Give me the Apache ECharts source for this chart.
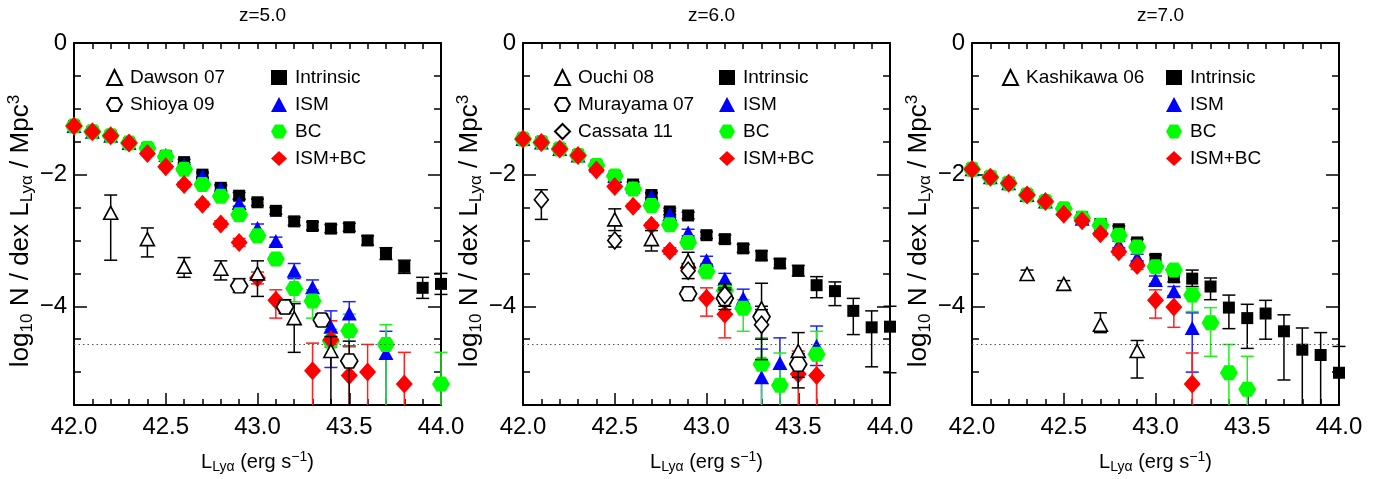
<!DOCTYPE html>
<html><head><meta charset="utf-8">
<script src="https://cdn.jsdelivr.net/npm/echarts@6/dist/echarts.min.js"></script>
<style>html,body{margin:0;padding:0;background:#fff}#c{width:1375px;height:479px}</style>
</head><body><div id="c"></div>
<script>
// ---------------- DATA ----------------
const panelTitles = ['z=5.0', 'z=6.0', 'z=7.0'];
const xModel = [42.0,42.1,42.2,42.3,42.4,42.5,42.6,42.7,42.8,42.9,43.0,43.1,43.2,43.3,43.4,43.5,43.6,43.7,43.8,43.9,44.0];
const xTickLabels = ['42.0','42.5','43.0','43.5','44.0'];
const yTickValues = [0, -2, -4];
const yTickLabels = ['0', '\u22122', '\u22124'];
const detectionLimit = -4.57;
const modelNames = ['Intrinsic', 'ISM', 'BC', 'ISM+BC'];

// z = 5.0 models (err: number = symmetric, [down, up] = asymmetric)
const z5Intrinsic = [-1.26,-1.35,-1.41,-1.52,-1.60,-1.72,-1.81,-2.00,-2.20,-2.32,-2.42,-2.55,-2.71,-2.78,-2.82,-2.80,-3.00,-3.20,-3.40,-3.72,-3.66];
const z5IntrinsicErr = [0.02,0.02,0.02,0.02,0.03,0.03,0.04,0.04,0.05,0.05,0.05,0.05,0.06,0.06,0.06,0.06,0.07,0.09,0.1,0.16,0.16];
const z5ISM = [-1.26,-1.35,-1.41,-1.52,-1.60,-1.70,-1.85,-2.02,-2.21,-2.43,-2.81,-3.01,-3.46,-3.71,-4.31,-4.11,null,-4.71,null,null,null];
const z5ISMErr = [0.02,0.02,0.02,0.02,0.03,0.03,0.03,0.04,0.04,0.05,0.06,0.06,[0.12,0.11],[0.14,0.11],[0.62,0.24],[0.5,0.18],null,[2,0.33],null,null,null];
const z5BC = [-1.26,-1.35,-1.41,-1.52,-1.60,-1.73,-1.92,-2.15,-2.33,-2.61,-2.93,-3.28,-3.73,-3.92,-4.53,-4.37,null,-4.58,null,null,-5.18];
const z5BCErr = [0.02,0.02,0.02,0.02,0.03,0.03,0.03,0.04,0.04,0.05,0.05,0.07,[0.2,0.18],[0.26,0.17],[0.22,0.18],[0.25,0.25],null,[2,0.3],null,null,[2,0.48]];
const z5ISMBC = [-1.26,-1.35,-1.41,-1.52,-1.68,-1.88,-2.15,-2.45,-2.75,-3.03,-3.57,-3.91,null,-4.98,-4.51,-5.05,-5.00,null,-5.18,null,null];
const z5ISMBCErr = [0.02,0.02,0.02,0.02,0.03,0.03,0.04,0.04,0.05,0.06,0.09,[0.27,0.16],null,[2,0.42],[0.11,0.29],[2,0.45],[2,0.42],null,[2,0.48],null,null];

// z = 6.0 models
const z6Intrinsic = [-1.46,-1.51,-1.61,-1.71,-1.86,-2.02,-2.15,-2.31,-2.56,-2.62,-2.92,-2.98,-3.12,-3.23,-3.35,-3.46,-3.68,-3.77,-4.07,-4.32,-4.31];
const z6IntrinsicErr = [0.02,0.02,0.02,0.02,0.03,0.03,0.04,0.04,0.05,0.05,0.05,0.06,0.06,0.07,0.07,0.08,[0.19,0.13],[0.22,0.14],[0.36,0.19],[0.6,0.25],[0.7,0.31]];
const z6ISM = [-1.46,-1.51,-1.61,-1.71,-1.86,-2.02,-2.18,-2.33,-2.60,-2.88,-3.30,-3.58,-3.88,-5.08,-4.86,null,-4.60,null,null,null,null];
const z6ISMErr = [0.02,0.02,0.02,0.02,0.03,0.03,0.03,0.04,0.05,0.05,0.06,0.08,[0.12,0.14],[2,0.43],[2,0.38],null,[0.3,0.3],null,null,null,null];
const z6BC = [-1.46,-1.51,-1.61,-1.71,-1.86,-2.02,-2.22,-2.47,-2.76,-3.03,-3.47,-3.76,-4.03,-4.88,-5.20,null,-4.73,null,null,null,null];
const z6BCErr = [0.02,0.02,0.02,0.02,0.03,0.03,0.03,0.04,0.05,0.05,0.05,[0.14,0.11],[0.35,0.13],[2,0.4],[2,0.49],null,[2,0.35],null,null,null,null];
const z6ISMBC = [-1.46,-1.51,-1.61,-1.71,-1.93,-2.18,-2.48,-2.77,-3.16,-3.42,-3.88,-4.12,null,null,null,-5.03,-5.05,null,null,null,null];
const z6ISMBCErr = [0.02,0.02,0.02,0.02,0.03,0.03,0.04,0.04,0.05,0.06,[0.27,0.16],[0.36,0.17],null,null,null,[2,0.35],[2,0.37],null,null,null,null];

// z = 7.0 models
const z7Intrinsic = [-1.92,-2.04,-2.13,-2.31,-2.41,-2.52,-2.65,-2.75,-2.83,-3.03,-3.28,-3.56,-3.58,-3.70,-4.02,-4.18,-4.11,-4.38,-4.66,-4.74,-5.01];
const z7IntrinsicErr = [0.02,0.02,0.02,0.03,0.03,0.03,0.04,0.04,0.05,0.05,0.06,0.07,[0.12,0.13],[0.2,0.13],[0.32,0.19],[0.46,0.21],[0.39,0.2],[0.74,0.25],[2,0.33],[2,0.34],[2,0.4]];
const z7ISM = [-1.92,-2.04,-2.13,-2.31,-2.41,-2.52,-2.67,-2.82,-3.06,-3.26,-3.60,-3.77,-4.33,null,null,null,null,null,null,null,null];
const z7ISMErr = [0.02,0.02,0.02,0.03,0.03,0.03,0.04,0.04,0.05,0.05,0.06,0.07,[0.67,0.23],null,null,null,null,null,null,null,null];
const z7BC = [-1.92,-2.04,-2.13,-2.31,-2.41,-2.52,-2.66,-2.77,-2.92,-3.10,-3.40,-3.45,-3.83,-4.25,-5.01,-5.26,null,null,null,null,null];
const z7BCErr = [0.02,0.02,0.02,0.03,0.03,0.03,0.04,0.04,0.05,0.05,0.06,0.07,[0.25,0.1],[0.51,0.23],[2,0.43],[2,0.5],null,null,null,null,null];
const z7ISMBC = [-1.92,-2.04,-2.13,-2.31,-2.41,-2.60,-2.70,-2.90,-3.17,-3.38,-3.91,-4.01,-5.18,null,null,null,null,null,null,null,null];
const z7ISMBCErr = [0.02,0.02,0.02,0.03,0.03,0.03,0.04,0.04,0.05,0.06,[0.27,0.16],[0.31,0.15],[2,0.47],null,null,null,null,null,null,null,null];

// Observations: x, y, lower bound, upper bound
const dawsonX  = [42.2, 42.4, 42.6, 42.8, 43.0, 43.2, 43.4];
const dawsonY  = [-2.58, -2.98, -3.40, -3.43, -3.50, -4.18, -4.68];
const dawsonLo = [-3.30, -3.25, -3.56, -3.60, -3.85, -4.70, -6.0];
const dawsonHi = [-2.31, -2.81, -3.26, -3.31, -3.31, -3.96, -4.46];
const shioyaX  = [42.9, 43.15, 43.35, 43.5];
const shioyaY  = [-3.69, -4.01, -4.21, -4.83];
const shioyaLo = [-3.79, -4.11, -4.30, -6.0];
const shioyaHi = [-3.58, -3.90, -4.12, -4.53];

const ouchiX  = [42.5, 42.7, 42.9, 43.1, 43.3, 43.5];
const ouchiY  = [-2.68, -2.98, -3.31, -3.76, -4.03, -4.68];
const ouchiLo = [-2.85, -3.16, -3.45, -4.05, -4.81, -5.24];
const ouchiHi = [-2.52, -2.85, -3.18, -3.66, -3.65, -4.40];
const murayamaX  = [42.9, 43.1, 43.3, 43.5];
const murayamaY  = [-3.81, -3.88, -4.16, -4.88];
const murayamaLo = [-3.90, -4.00, -4.30, -5.08];
const murayamaHi = [-3.71, -3.75, -4.00, -4.72];
const cassataX  = [42.1, 42.5, 42.9, 43.1, 43.3];
const cassataY  = [-2.38, -3.00, -3.46, -3.83, -4.28];
const cassataLo = [-2.68, -3.10, -3.58, -3.95, -4.50];
const cassataHi = [-2.23, -2.93, -3.35, -3.72, -4.05];

const kashikawaX  = [42.3, 42.5, 42.7, 42.9];
const kashikawaY  = [-3.51, -3.66, -4.28, -4.68];
const kashikawaLo = [-3.57, -3.71, -4.40, -5.09];
const kashikawaHi = [-3.45, -3.61, -4.10, -4.52];

// ---------------- LAYOUT / STYLE ----------------
const FONT = '"Liberation Sans", Arial, Helvetica, sans-serif';
const X_MIN = 42, X_MAX = 44, Y_MIN = -5.5, Y_MAX = 0;
const gridLefts = [74, 523, 972];
const GRID_W = 367, GRID_TOP = 43, GRID_H = 366;
const HEX = 'path://M-1,0 L-0.5,-0.866 L0.5,-0.866 L1,0 L0.5,0.866 L-0.5,0.866 Z';

const modelStyle = {
  'Intrinsic': { symbol: 'rect', size: [12, 12], color: '#000000', err: '#000000' },
  'ISM':       { symbol: 'triangle', size: [15, 14], color: '#0000ff', err: '#2020ff' },
  'BC':        { symbol: HEX, size: [18, 15], color: '#00ff00', err: '#22ee22' },
  'ISM+BC':    { symbol: 'diamond', size: [17, 19], color: '#ff0000', err: '#ff2020' }
};
const obsStyle = {
  tri:  { symbol: 'triangle', size: [14, 13] },
  hex:  { symbol: HEX, size: [17, 14] },
  dia:  { symbol: 'diamond', size: [14, 17] }
};

const panels = [
  { models: [z5Intrinsic, z5ISM, z5BC, z5ISMBC], errs: [z5IntrinsicErr, z5ISMErr, z5BCErr, z5ISMBCErr],
    obs: [ { name: 'Dawson 07', st: 'tri', x: dawsonX, y: dawsonY, lo: dawsonLo, hi: dawsonHi },
           { name: 'Shioya 09', st: 'hex', x: shioyaX, y: shioyaY, lo: shioyaLo, hi: shioyaHi } ],
    obsLegendLeft: 101, modelLegendLeft: 266 },
  { models: [z6Intrinsic, z6ISM, z6BC, z6ISMBC], errs: [z6IntrinsicErr, z6ISMErr, z6BCErr, z6ISMBCErr],
    obs: [ { name: 'Ouchi 08', st: 'tri', x: ouchiX, y: ouchiY, lo: ouchiLo, hi: ouchiHi },
           { name: 'Murayama 07', st: 'hex', x: murayamaX, y: murayamaY, lo: murayamaLo, hi: murayamaHi },
           { name: 'Cassata 11', st: 'dia', x: cassataX, y: cassataY, lo: cassataLo, hi: cassataHi } ],
    obsLegendLeft: 549, modelLegendLeft: 714 },
  { models: [z7Intrinsic, z7ISM, z7BC, z7ISMBC], errs: [z7IntrinsicErr, z7ISMErr, z7BCErr, z7ISMBCErr],
    obs: [ { name: 'Kashikawa 06', st: 'tri', x: kashikawaX, y: kashikawaY, lo: kashikawaLo, hi: kashikawaHi } ],
    obsLegendLeft: 997, modelLegendLeft: 1161 }
];

// ---------------- BUILD ----------------
function errRender(color, capHalf) {
  return function (params, api) {
    const x = api.value(0);
    let lo = api.value(1), hi = api.value(2);
    const loCap = lo >= Y_MIN, hiCap = hi <= Y_MAX;
    lo = Math.max(lo, Y_MIN); hi = Math.min(hi, Y_MAX);
    const p1 = api.coord([x, lo]), p2 = api.coord([x, hi]);
    const style = { stroke: color, lineWidth: 1.5, fill: null };
    const ch = [{ type: 'line', shape: { x1: p1[0], y1: p1[1], x2: p2[0], y2: p2[1] }, style }];
    if (loCap) ch.push({ type: 'line', shape: { x1: p1[0] - capHalf, y1: p1[1], x2: p1[0] + capHalf, y2: p1[1] }, style });
    if (hiCap) ch.push({ type: 'line', shape: { x1: p2[0] - capHalf, y1: p2[1], x2: p2[0] + capHalf, y2: p2[1] }, style });
    return { type: 'group', children: ch };
  };
}

const grid = [], xAxis = [], yAxis = [], series = [], legend = [], title = [];
const axisLineStyle = { color: '#000', width: 2 };
const xNameRich = {
  n: { fontSize: 20, fontFamily: FONT, color: '#000', lineHeight: 24 },
  s: { fontSize: 14, fontFamily: FONT, color: '#000', lineHeight: 24, verticalAlign: 'bottom', padding: [7, 0, 0, 0] },
  p: { fontSize: 14, fontFamily: FONT, color: '#000', lineHeight: 24, verticalAlign: 'top', padding: [0, 0, 7, 0] }
};
const yNameRich = {
  n: { fontSize: 26, fontFamily: FONT, color: '#000', lineHeight: 30 },
  s: { fontSize: 17, fontFamily: FONT, color: '#000', lineHeight: 30, verticalAlign: 'bottom', padding: [9, 0, 0, 0] },
  p: { fontSize: 17, fontFamily: FONT, color: '#000', lineHeight: 30, verticalAlign: 'top', padding: [0, 0, 9, 0] },
  e: { fontSize: 17, lineHeight: 30, width: 14 }
};

panels.forEach((P, i) => {
  const gl = gridLefts[i];
  grid.push({ left: gl, top: GRID_TOP, width: GRID_W, height: GRID_H, containLabel: false });
  title.push({ text: panelTitles[i], left: gl + GRID_W / 2, top: 1, textAlign: 'center',
    textStyle: { fontFamily: FONT, fontSize: 19, fontWeight: 'normal', color: '#000' } });

  // x axes (bottom + top)
  xAxis.push({
    gridIndex: i, type: 'value', min: X_MIN, max: X_MAX, interval: 0.5, position: 'bottom',
    axisLine: { show: true, onZero: false, lineStyle: axisLineStyle },
    axisTick: { show: true, inside: true, length: 12, lineStyle: { color: '#000', width: 1.5 } },
    minorTick: { show: true, splitNumber: 5, length: 6, lineStyle: { color: '#000', width: 1.5 } },
    splitLine: { show: false },
    axisLabel: { show: true, margin: 10, fontFamily: FONT, fontSize: 24, color: '#000',
      formatter: v => xTickLabels[Math.round((v - X_MIN) / 0.5)] },
    name: '{n|L}{s|Ly\u03b1}{n| (erg s}{p|\u22121}{n|)}', nameLocation: 'middle', nameGap: 45,
    nameTextStyle: { rich: xNameRich }
  });
  xAxis.push({
    gridIndex: i, type: 'value', min: X_MIN, max: X_MAX, interval: 0.5, position: 'top',
    axisLine: { show: true, onZero: false, lineStyle: axisLineStyle },
    axisTick: { show: true, inside: true, length: 6, lineStyle: { color: '#000', width: 1.5 } },
    minorTick: { show: true, splitNumber: 5, length: 6, lineStyle: { color: '#000', width: 1.5 } },
    splitLine: { show: false }, axisLabel: { show: false }
  });
  // y axes: left (main), left long ticks, right, right long ticks
  yAxis.push({
    gridIndex: i, type: 'value', min: Y_MIN, max: Y_MAX, interval: 0.5, position: 'left',
    axisLine: { show: true, onZero: false, lineStyle: axisLineStyle },
    axisTick: { show: true, inside: true, length: 7, lineStyle: { color: '#000', width: 1.5 } },
    splitLine: { show: false },
    axisLabel: { show: true, margin: 7, fontFamily: FONT, fontSize: 24, color: '#000',
      customValues: yTickValues,
      formatter: v => { const k = yTickValues.findIndex(t => Math.abs(t - v) < 1e-6); return k >= 0 ? yTickLabels[k] : ''; } },
    name: '{n|log}{s|10}{n| N / dex L}{s|Ly\u03b1}{n| / Mpc}{p|3}{e|}', nameLocation: 'middle', nameGap: 27,
    nameTextStyle: { rich: yNameRich }
  });
  yAxis.push({
    gridIndex: i, type: 'value', min: Y_MIN, max: Y_MAX, position: 'left', offset: 0,
    axisLine: { show: false },
    axisTick: { show: true, inside: true, length: 13, customValues: yTickValues, lineStyle: { color: '#000', width: 1.5 } },
    splitLine: { show: false }, axisLabel: { show: false }
  });
  yAxis.push({
    gridIndex: i, type: 'value', min: Y_MIN, max: Y_MAX, interval: 0.5, position: 'right', offset: 0,
    axisLine: { show: true, onZero: false, lineStyle: axisLineStyle },
    axisTick: { show: true, inside: true, length: 7, lineStyle: { color: '#000', width: 1.5 } },
    splitLine: { show: false }, axisLabel: { show: false }
  });
  yAxis.push({
    gridIndex: i, type: 'value', min: Y_MIN, max: Y_MAX, position: 'right', offset: 0,
    axisLine: { show: false },
    axisTick: { show: true, inside: true, length: 13, customValues: yTickValues, lineStyle: { color: '#000', width: 1.5 } },
    splitLine: { show: false }, axisLabel: { show: false }
  });

  const xi = 2 * i, yi = 4 * i;

  // models
  modelNames.forEach((nm, m) => {
    const vals = P.models[m], errs = P.errs[m], st = modelStyle[nm];
    const errData = [], ptData = [];
    xModel.forEach((x, k) => {
      const v = vals[k];
      if (v === null || v === undefined) return;
      ptData.push([x, v]);
      const e = errs[k];
      if (e !== null && e !== undefined) {
        const dn = Array.isArray(e) ? e[0] : e, up = Array.isArray(e) ? e[1] : e;
        errData.push([x, v - dn, v + up]);
      }
    });
    series.push({ type: 'custom', name: nm + ' err', xAxisIndex: xi, yAxisIndex: yi, silent: true,
      renderItem: errRender(st.err, 6.5), encode: { x: 0, y: [1, 2] }, data: errData, z: 2 });
    const s = { type: 'scatter', name: nm, xAxisIndex: xi, yAxisIndex: yi, symbol: st.symbol, symbolSize: st.size,
      itemStyle: { color: st.color, opacity: 1 }, data: ptData, z: 3, silent: true };
    if (m === 0) {
      s.markLine = { silent: true, symbol: 'none', label: { show: false },
        lineStyle: { type: [1.5, 3], color: '#555', width: 1 }, data: [{ yAxis: detectionLimit }] };
    }
    series.push(s);
  });

  // observations
  P.obs.forEach(o => {
    const st = obsStyle[o.st];
    series.push({ type: 'custom', name: o.name + ' err', xAxisIndex: xi, yAxisIndex: yi, silent: true,
      renderItem: errRender('#000', 6.5), encode: { x: 0, y: [1, 2] },
      data: o.x.map((x, k) => [x, o.lo[k], o.hi[k]]), z: 4 });
    series.push({ type: 'scatter', name: o.name, xAxisIndex: xi, yAxisIndex: yi, symbol: st.symbol, symbolSize: st.size,
      itemStyle: { color: '#ffffff', borderColor: '#000', borderWidth: 1.6, opacity: 1 },
      data: o.x.map((x, k) => [x, o.y[k]]), z: 5, silent: true });
  });

  const legTxt = { fontFamily: FONT, fontSize: 19, color: '#000', lineHeight: 21, padding: [0, 0, 0, 3] };
  legend.push({ orient: 'vertical', left: P.obsLegendLeft, top: 62, itemGap: 6, itemWidth: 15, itemHeight: 15,
    selectedMode: false, data: P.obs.map(o => o.name), textStyle: legTxt });
  legend.push({ orient: 'vertical', left: P.modelLegendLeft, top: 62, itemGap: 6, itemWidth: 16, itemHeight: 15,
    selectedMode: false, data: modelNames.slice(), textStyle: legTxt });
});

const chart = echarts.init(document.getElementById('c'), null, { renderer: 'canvas' });
chart.setOption({ animation: false, backgroundColor: '#fff', title, grid, xAxis, yAxis, legend, series });
</script></body></html>
